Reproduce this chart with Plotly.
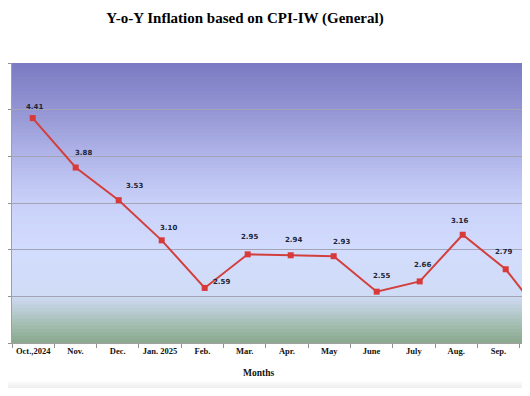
import plotly.graph_objects as go

# ---- data ----
months = ["Oct.,2024", "Nov.", "Dec.", "Jan. 2025", "Feb.", "Mar.", "Apr.",
          "May", "June", "July", "Aug.", "Sep.", "Oct."]
inflation = [4.41, 3.88, 3.53, 3.10, 2.59, 2.95, 2.94, 2.93, 2.55, 2.66, 3.16, 2.79, 2.20]
y_ticks = [2.0, 2.5, 3.0, 3.5, 4.0, 4.5, 5.0]
title_text = "Y-o-Y Inflation based on CPI-IW (General)"
x_title = "Months"

# label nudges (styling, px)
label_dx = [2, 8, 16, 7, 17, 2, 3, 8, 5, 3, -3, -2, 0]
label_dy = [11, 15, 14, 12, 6, 17, 15, 14, 16, 16, 14, 17, 14]

# page body has an 8px margin; the figure fits inside the remaining window
W, H = 514, 380
ML, MR, MT = 4, 0, 55
PH = 280
MB = H - MT - PH
PW = W - ML - MR
BOTTOM = H - MB


def paper_y(px):
    return (BOTTOM - px) / PH


fig = go.Figure()

# invisible trace to register tick categories on the labelled axis
fig.add_trace(go.Scatter(x=months, y=inflation, xaxis="x", yaxis="y",
                         mode="lines", line=dict(width=0), opacity=0,
                         hoverinfo="skip", showlegend=False))

fig.add_trace(go.Scatter(
    x=months, y=inflation, xaxis="x2", yaxis="y",
    mode="lines+markers",
    line=dict(color="#d2403e", width=2),
    marker=dict(symbol="square", size=6, color="#d83a3a"),
    showlegend=False, hoverinfo="x+y"))

annotations = []
for m, v, dx, dy in zip(months, inflation, label_dx, label_dy):
    annotations.append(dict(x=m, y=v, xref="x2", yref="y", text=f"{v:.2f}",
                            showarrow=False, xshift=dx, yshift=dy,
                            font=dict(family="DejaVu Sans", size=7, color="#1e2436", weight="bold")))
annotations.append(dict(x=(250 - ML) / PW, y=paper_y(365), xref="paper", yref="paper",
                        yanchor="middle", text=f"<b>{x_title}</b>", showarrow=False,
                        font=dict(family="Liberation Serif", size=9.5, color="#111111")))

# gradient background bands
stops = [(0.0, (0x7a, 0x7a, 0xc3)), (0.17, (0x94, 0x95, 0xd3)), (0.33, (0xb0, 0xb5, 0xe9)),
         (0.5, (0xc9, 0xd1, 0xf9)), (0.67, (0xd2, 0xdc, 0xfd)), (0.83, (0xd0, 0xdc, 0xf6)),
         (0.87, (0xc0, 0xd0, 0xdc)), (0.93, (0xa6, 0xbf, 0xb4)), (1.0, (0x88, 0xa8, 0x8c))]


def col_at(f):
    for (f0, c0), (f1, c1) in zip(stops[:-1], stops[1:]):
        if f0 <= f <= f1:
            t = (f - f0) / (f1 - f0) if f1 > f0 else 0
            return "rgb(%d,%d,%d)" % tuple(round(a + (b - a) * t) for a, b in zip(c0, c1))
    return "rgb(%d,%d,%d)" % stops[-1][1]


shapes = []
N = 80
for i in range(N):
    f = (i + 0.5) / N
    y1 = 1 - i / N
    y0 = 1 - (i + 1) / N - 0.002
    shapes.append(dict(type="rect", xref="paper", yref="paper", x0=0, x1=1,
                       y0=max(y0, 0), y1=y1, fillcolor=col_at(f),
                       line=dict(width=0), layer="below"))

# light grey band at the very bottom of the page
for k, c in enumerate(["#fbfbfb", "#f6f6f6", "#f2f2f2", "#efefef"]):
    top_px = 373 + k * 2
    shapes.append(dict(type="rect", xref="paper", yref="paper", x0=-0.05, x1=1.01,
                       y0=paper_y(H + 10), y1=paper_y(top_px),
                       fillcolor=c, line=dict(width=0), layer="below"))

fig.update_layout(
    width=W, height=H,
    margin=dict(l=ML, r=MR, t=MT, b=MB),
    paper_bgcolor="white", plot_bgcolor="#d0daf8",
    title=dict(text=f"<b>{title_text}</b>", x=237 / W, xanchor="center",
               y=1 - 9.5 / H, yanchor="middle", yref="container",
               font=dict(family="Liberation Serif", size=15, color="black")),
    xaxis=dict(type="category", range=[-0.5, -0.5 + PW / 42.3], tickson="boundaries",
               ticks="outside", ticklen=4, tickcolor="#909090", tickangle=0,
               showline=True, linecolor="#a0a0a0", linewidth=1,
               showgrid=False, zeroline=False, automargin=False,
               tickfont=dict(family="Liberation Serif", size=8.5, color="#111111", weight="bold")),
    xaxis2=dict(type="category", overlaying="x", anchor="y", visible=False,
                range=[-20.7 / 43, -20.7 / 43 + PW / 43]),
    yaxis=dict(range=[2.0, 5.0], tickvals=y_ticks, tickformat=".2f",
               ticks="outside", ticklen=4, tickcolor="#909090",
               showline=True, linecolor="#a0a0a0", linewidth=1,
               showgrid=True, gridcolor="#a4a4b6", gridwidth=1, zeroline=False,
               automargin=False,
               tickfont=dict(family="Liberation Serif", size=9, color="#111111", weight="bold")),
    shapes=shapes,
    annotations=annotations,
)

fig.write_html("out.html")
